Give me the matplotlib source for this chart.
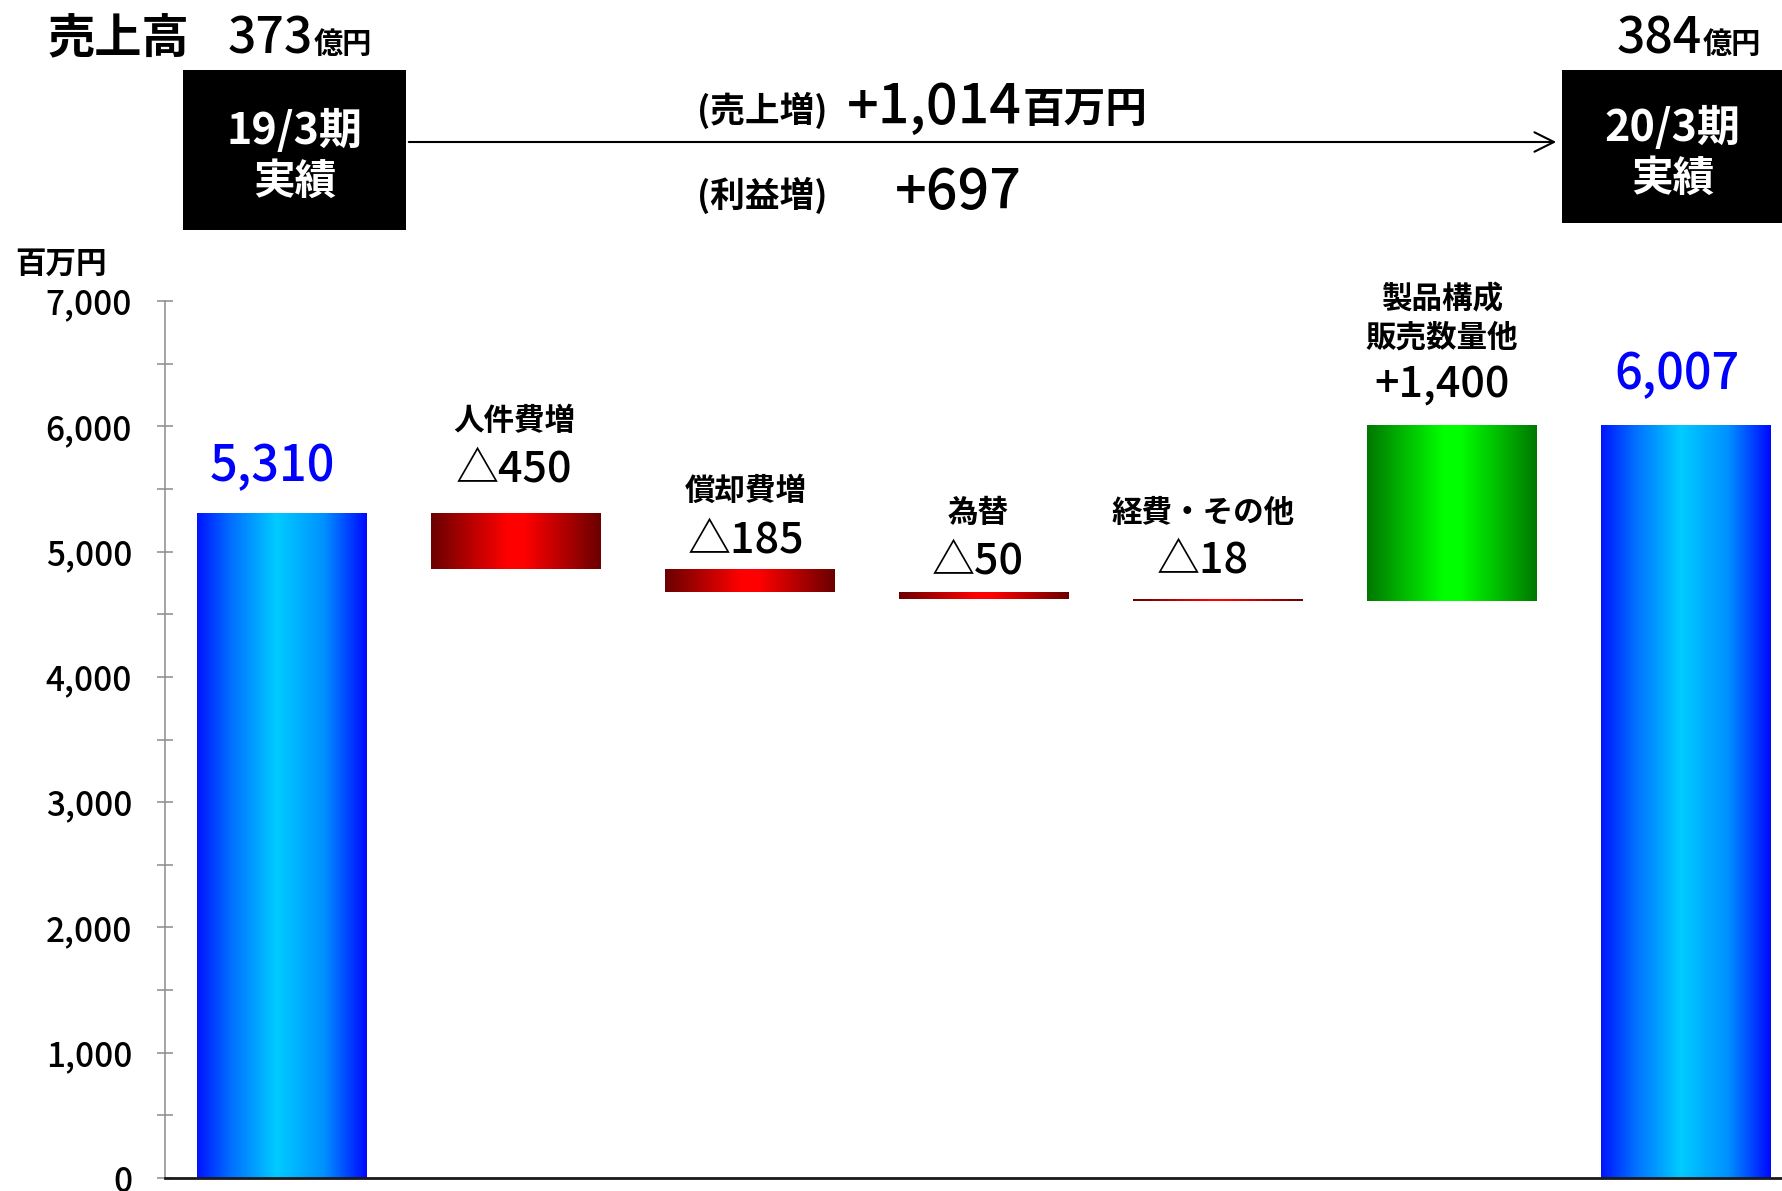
import numpy as np
import matplotlib
matplotlib.use("Agg")
import matplotlib.pyplot as plt
import matplotlib.patches as patches
from matplotlib.colors import LinearSegmentedColormap

plt.rcParams['font.family'] = ['Noto Sans CJK JP', 'DejaVu Sans']

# data
start_label = '19/3期'
end_label = '20/3期'
start_value = 5310
end_value = 6007
step_names = [['人件費増'], ['償却費増'], ['為替'], ['経費・その他'], ['製品構成', '販売数量他']]
step_values = [-450, -185, -50, -18, 1400]
sales_start = 373
sales_end = 384
sales_increase = 1014
profit_increase = 697
yticks = [0, 1000, 2000, 3000, 4000, 5000, 6000, 7000]

W, H = 1783, 1191
fig = plt.figure(figsize=(W / 100, H / 100), dpi=100)


def fx(x):
    return x / W


def fy(y):
    return 1 - y / H


# waterfall levels
bottoms = [0]
heights = [start_value]
level = start_value
for d in step_values:
    bottoms.append(min(level, level + d))
    heights.append(abs(d))
    level += d
bottoms.append(0)
heights.append(end_value)
xs = np.arange(len(heights))

ax = fig.add_axes([fx(165), fy(1178), fx(W - 165), (1178 - 301) / H])

blue = LinearSegmentedColormap.from_list('b', [(0, '#0014ff'), (0.2, '#0070ff'), (0.47, '#00ccff'),
                                              (0.75, '#0090ff'), (1, '#0008ff')])
red = LinearSegmentedColormap.from_list('r', [(0, '#6a0000'), (0.45, '#ff0000'), (0.55, '#ff0000'),
                                             (1, '#6a0000')])
green = LinearSegmentedColormap.from_list('g', [(0, '#007800'), (0.45, '#00ff00'), (0.55, '#00ff00'),
                                               (1, '#007800')])
cmaps = [blue] + [red if d < 0 else green for d in step_values] + [blue]

bars = ax.bar(xs, heights, bottom=bottoms, width=0.726, color='none', edgecolor='none', zorder=2)
grad = np.linspace(0, 1, 256).reshape(1, -1)
for b, cm in zip(bars, cmaps):
    x0, y0 = b.get_x(), b.get_y()
    im = ax.imshow(grad, cmap=cm, aspect='auto', interpolation='bilinear',
                   extent=(x0, x0 + b.get_width(), y0, y0 + b.get_height()), zorder=2)
    im.set_clip_path(b)

ax.set_xlim(-0.5, 6.415)
ax.set_ylim(0, 7000)
ax.set_yticks(yticks)
ax.set_yticklabels([f'{t:,}' for t in yticks])
ax.set_yticks(np.arange(500, 7000, 1000), minor=True)
ax.set_xticks([])
ax.tick_params(axis='y', which='both', direction='inout', length=11.5, width=1.1,
               color='#8c8c8c', pad=18, labelsize=24, labelcolor='black')
for lab in ax.get_yticklabels():
    lab.set_fontweight('medium')
for s in ['top', 'right']:
    ax.spines[s].set_visible(False)
ax.spines['left'].set_color('#8c8c8c')
ax.spines['left'].set_linewidth(1.1)
ax.spines['bottom'].set_color('#1a1a1a')
ax.spines['bottom'].set_linewidth(2)
ax.spines['bottom'].set_zorder(3)

# value labels above bars (px offsets)
val_texts = [f'{start_value:,}'] + [(f'△{abs(d)}' if d < 0 else f'+{d:,}') for d in step_values] \
    + [f'{end_value:,}']
val_dy = [32, 31, 17, 19, 26, 28, 36]
val_dx = [-10, -2, -4, -6, -15, -10, -9]
for i, t in enumerate(val_texts):
    top = bottoms[i] + heights[i]
    is_total = i in (0, len(val_texts) - 1)
    ax.annotate(t, (xs[i], top), xytext=(val_dx[i] * 0.72, val_dy[i] * 0.72),
                textcoords='offset points', ha='center', va='baseline',
                fontsize=35 if is_total else 31, fontweight='medium',
                color='#0000ff' if is_total else 'black', annotation_clip=False)

name_dy = [[83], [69], [70], [77], [117, 79]]
for i, (lines, dys) in enumerate(zip(step_names, name_dy), start=1):
    top = bottoms[i] + heights[i]
    for line, dy in zip(lines, dys):
        ax.annotate(line, (xs[i], top), xytext=(val_dx[i] * 0.72, dy * 0.72),
                    textcoords='offset points', ha='center', va='baseline',
                    fontsize=22, fontweight='bold', annotation_clip=False)

fig.text(fx(15), fy(273), '百万円', fontsize=22, fontweight='bold', va='baseline')

# header
fig.text(fx(48), fy(53), '売上高', fontsize=34, fontweight='bold', va='baseline')
fig.text(fx(313), fy(54), f'{sales_start}', fontsize=36, fontweight='medium', va='baseline', ha='right')
fig.text(fx(314), fy(53), '億円', fontsize=21, fontweight='bold', va='baseline')
fig.text(fx(1702), fy(54), f'{sales_end}', fontsize=36, fontweight='medium', va='baseline', ha='right')
fig.text(fx(1703), fy(53), '億円', fontsize=21, fontweight='bold', va='baseline')

for (x0, y0, x1, y1), lab in [((183, 70, 406, 230), start_label), ((1562, 70, 1783, 223), end_label)]:
    fig.add_artist(patches.Rectangle((fx(x0), fy(y1)), fx(x1 - x0), (y1 - y0) / H,
                                     transform=fig.transFigure, facecolor='black', edgecolor='none'))
    cx = (x0 + x1) / 2
    cy = (y0 + y1) / 2
    fig.text(fx(cx), fy(cy - 19), lab, color='white', fontsize=31, fontweight='bold',
             ha='center', va='center')
    fig.text(fx(cx), fy(cy + 32), '実績', color='white', fontsize=30, fontweight='bold',
             ha='center', va='center')

fig.add_artist(patches.FancyArrowPatch((fx(406), fy(142)), (fx(1559), fy(142)),
                                       transform=fig.transFigure,
                                       arrowstyle='->,head_length=14,head_width=7',
                                       mutation_scale=1, lw=1.5, color='black'))

fig.text(fx(697), fy(122), '(売上増)', fontsize=25, fontweight='bold', va='baseline')
fig.text(fx(847), fy(124), f'+{sales_increase:,}', fontsize=40, fontweight='medium', va='baseline')
fig.text(fx(1023), fy(122), '百万円', fontsize=30, fontweight='bold', va='baseline')
fig.text(fx(697), fy(207), '(利益増)', fontsize=25, fontweight='bold', va='baseline')
fig.text(fx(895), fy(209), f'+{profit_increase}', fontsize=40, fontweight='medium', va='baseline')

fig.savefig('out.png', dpi=100)
